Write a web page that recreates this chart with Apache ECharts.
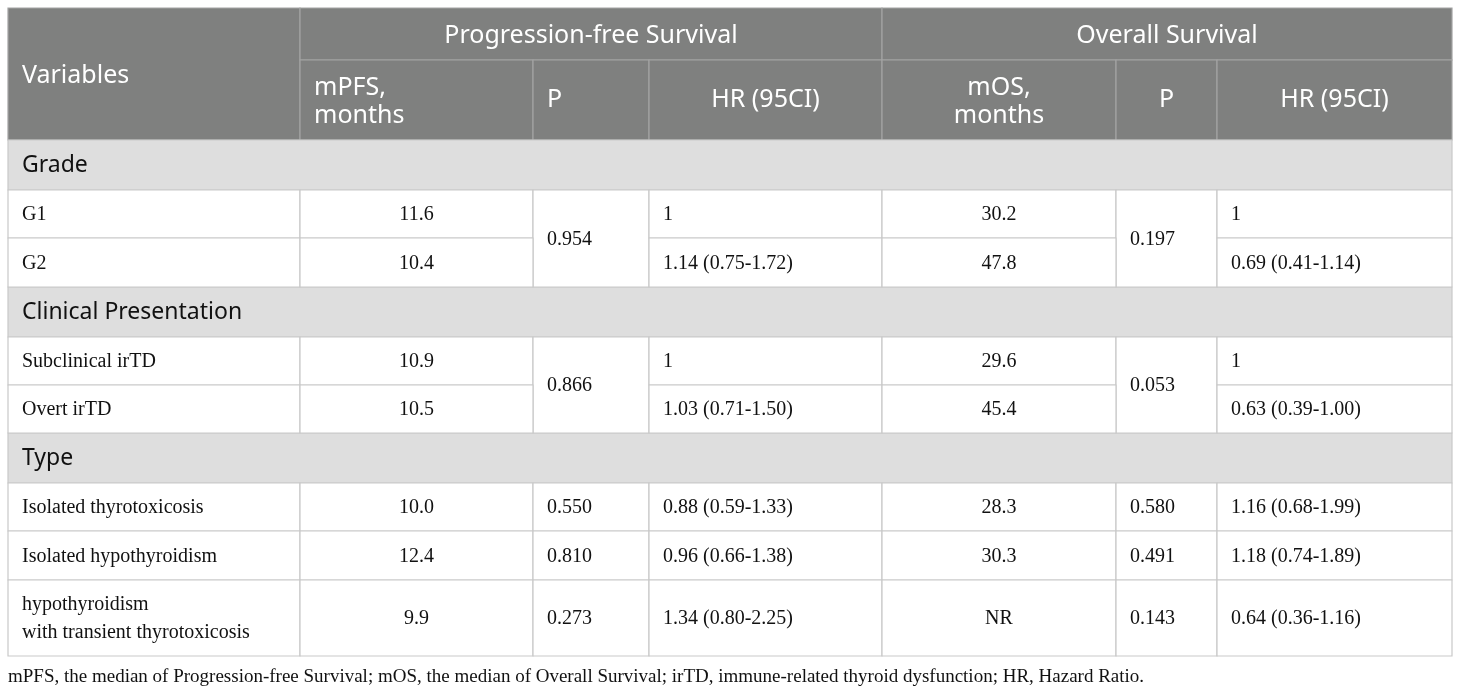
<!DOCTYPE html>
<html>
<head>
<meta charset="utf-8">
<title>irTD survival table</title>
<script src="https://cdn.jsdelivr.net/npm/echarts@6/dist/echarts.min.js"></script>
<style>
  html, body { margin: 0; padding: 0; background: #fff; }
  #main { width: 1460px; height: 693px; }
</style>
</head>
<body>
<div id="main"></div>
<script>
// 表格数据
var groupHeaders = ['Progression-free Survival', 'Overall Survival'];
var columnHeaders = ['mPFS,\nmonths', 'P', 'HR (95CI)', 'mOS,\nmonths', 'P', 'HR (95CI)'];
var sections = ['Grade', 'Clinical Presentation', 'Type'];
var variables = ['G1', 'G2', 'Subclinical irTD', 'Overt irTD', 'Isolated thyrotoxicosis',
    'Isolated hypothyroidism', 'hypothyroidism\nwith transient thyrotoxicosis'];
var sectionOf = [0, 0, 1, 1, 2, 2, 2];
var mPFS = ['11.6', '10.4', '10.9', '10.5', '10.0', '12.4', '9.9'];
var pPFS = ['0.954', '', '0.866', '', '0.550', '0.810', '0.273'];
var hrPFS = ['1', '1.14 (0.75-1.72)', '1', '1.03 (0.71-1.50)', '0.88 (0.59-1.33)', '0.96 (0.66-1.38)', '1.34 (0.80-2.25)'];
var mOS = ['30.2', '47.8', '29.6', '45.4', '28.3', '30.3', 'NR'];
var pOS = ['0.197', '', '0.053', '', '0.580', '0.491', '0.143'];
var hrOS = ['1', '0.69 (0.41-1.14)', '1', '0.63 (0.39-1.00)', '1.16 (0.68-1.99)', '1.18 (0.74-1.89)', '0.64 (0.36-1.16)'];
var pSpan = [2, 0, 2, 0, 1, 1, 1];  // P值合并行数
var footnote = 'mPFS, the median of Progression-free Survival; mOS, the median of Overall Survival; irTD, immune-related thyroid dysfunction; HR, Hazard Ratio.';

// 布局
var colEdges = [8, 300, 533, 649, 882, 1116, 1217, 1452];
var headTop = 8, headMid = 60, headBottom = 140;
var sectionH = 50;
var rowH = [48, 49, 48, 48, 48, 49, 76];
var headAlign = ['left', 'left', 'center', 'center', 'center', 'center'];
var bodyAlign = ['center', 'left', 'left', 'center', 'left', 'left'];

var SANS = '"Noto Sans", "Open Sans", sans-serif';
var SERIF = '"Liberation Serif", "Times New Roman", serif';
var HEAD_BG = '#7f807f', HEAD_LINE = '#a3a3a3';
var SEC_BG = '#dedede', BODY_LINE = '#c9c9c9';
var TEXT = '#111';

var cellBoxes = [];   // 传给系列的数据
var cellInfo = [];    // 文字与样式
function addCell(x0, y0, x1, y1, text, fill, line, font, color, align, dy) {
    cellBoxes.push([x0, y0, x1, y1]);
    cellInfo.push({text: text, fill: fill, line: line, font: font, color: color,
        align: align || 'left', dy: dy || 0});
}

// 表头
var headFont = '25px ' + SANS;
addCell(colEdges[0], headTop, colEdges[1], headBottom, 'Variables', HEAD_BG, HEAD_LINE, headFont, '#fff', 'left', 2);
addCell(colEdges[1], headTop, colEdges[4], headMid, groupHeaders[0], HEAD_BG, HEAD_LINE, headFont, '#fff', 'center', 2);
addCell(colEdges[4], headTop, colEdges[7], headMid, groupHeaders[1], HEAD_BG, HEAD_LINE, headFont, '#fff', 'center', 2);
for (var c = 0; c < columnHeaders.length; c++) {
    addCell(colEdges[c + 1], headMid, colEdges[c + 2], headBottom, columnHeaders[c],
        HEAD_BG, HEAD_LINE, headFont, '#fff', headAlign[c], columnHeaders[c].indexOf('\n') > 0 ? 2 : 0);
}

// 表体
var curY = headBottom;
var bodyFont = '20px ' + SERIF;
var secFont = '23px ' + SANS;
var rowTops = [];
for (var i = 0; i < variables.length; i++) {
    if (i === 0 || sectionOf[i] !== sectionOf[i - 1]) {
        addCell(colEdges[0], curY, colEdges[7], curY + sectionH, sections[sectionOf[i]],
            SEC_BG, BODY_LINE, secFont, TEXT);
        curY += sectionH;
    }
    rowTops[i] = curY;
    curY += rowH[i];
}
for (var i = 0; i < variables.length; i++) {
    var rowTop = rowTops[i], rowBot = rowTop + rowH[i];
    var spanBot = pSpan[i] === 2 ? rowTops[i + 1] + rowH[i + 1] : rowBot;
    var cols = [mPFS[i], pPFS[i], hrPFS[i], mOS[i], pOS[i], hrOS[i]];
    addCell(colEdges[0], rowTop, colEdges[1], rowBot, variables[i], '#fff', BODY_LINE, bodyFont, TEXT, 'left', 1);
    for (var c = 0; c < cols.length; c++) {
        var isP = (c === 1 || c === 4);
        if (isP && pSpan[i] === 0) continue;
        addCell(colEdges[c + 1], rowTop, colEdges[c + 2], isP ? spanBot : rowBot, cols[c],
            '#fff', BODY_LINE, bodyFont, TEXT, bodyAlign[c], 1);
    }
}

var myChart = echarts.init(document.getElementById('main'));
myChart.setOption({
    animation: false,
    grid: {left: 0, right: 0, top: 0, bottom: 0},
    xAxis: {type: 'value', min: 0, max: 1460, show: false},
    yAxis: {type: 'value', min: 0, max: 693, inverse: true, show: false},
    graphic: [{
        type: 'text', left: 8, top: 668,
        style: {text: footnote, font: '19px ' + SERIF, fill: TEXT}
    }],
    series: [{
        type: 'custom',
        clip: false,
        encode: {x: [0, 2], y: [1, 3]},
        data: cellBoxes,
        renderItem: function (params, api) {
            var cell = cellInfo[params.dataIndex];
            var p0 = api.coord([api.value(0), api.value(1)]);
            var p1 = api.coord([api.value(2), api.value(3)]);
            var pad = 14;
            var tx = cell.align === 'center' ? (p0[0] + p1[0]) / 2 : p0[0] + pad;
            return {
                type: 'group',
                children: [{
                    type: 'rect',
                    shape: {x: p0[0], y: p0[1], width: p1[0] - p0[0], height: p1[1] - p0[1]},
                    style: {fill: cell.fill, stroke: cell.line, lineWidth: 1.2}
                }, {
                    type: 'text',
                    style: {
                        text: cell.text, x: tx, y: (p0[1] + p1[1]) / 2 + cell.dy,
                        font: cell.font, fill: cell.color,
                        align: cell.align, verticalAlign: 'middle',
                        lineHeight: 28
                    }
                }]
            };
        }
    }]
});
window.addEventListener('resize', function () {
    myChart.resize();
});
</script>
</body>
</html>
